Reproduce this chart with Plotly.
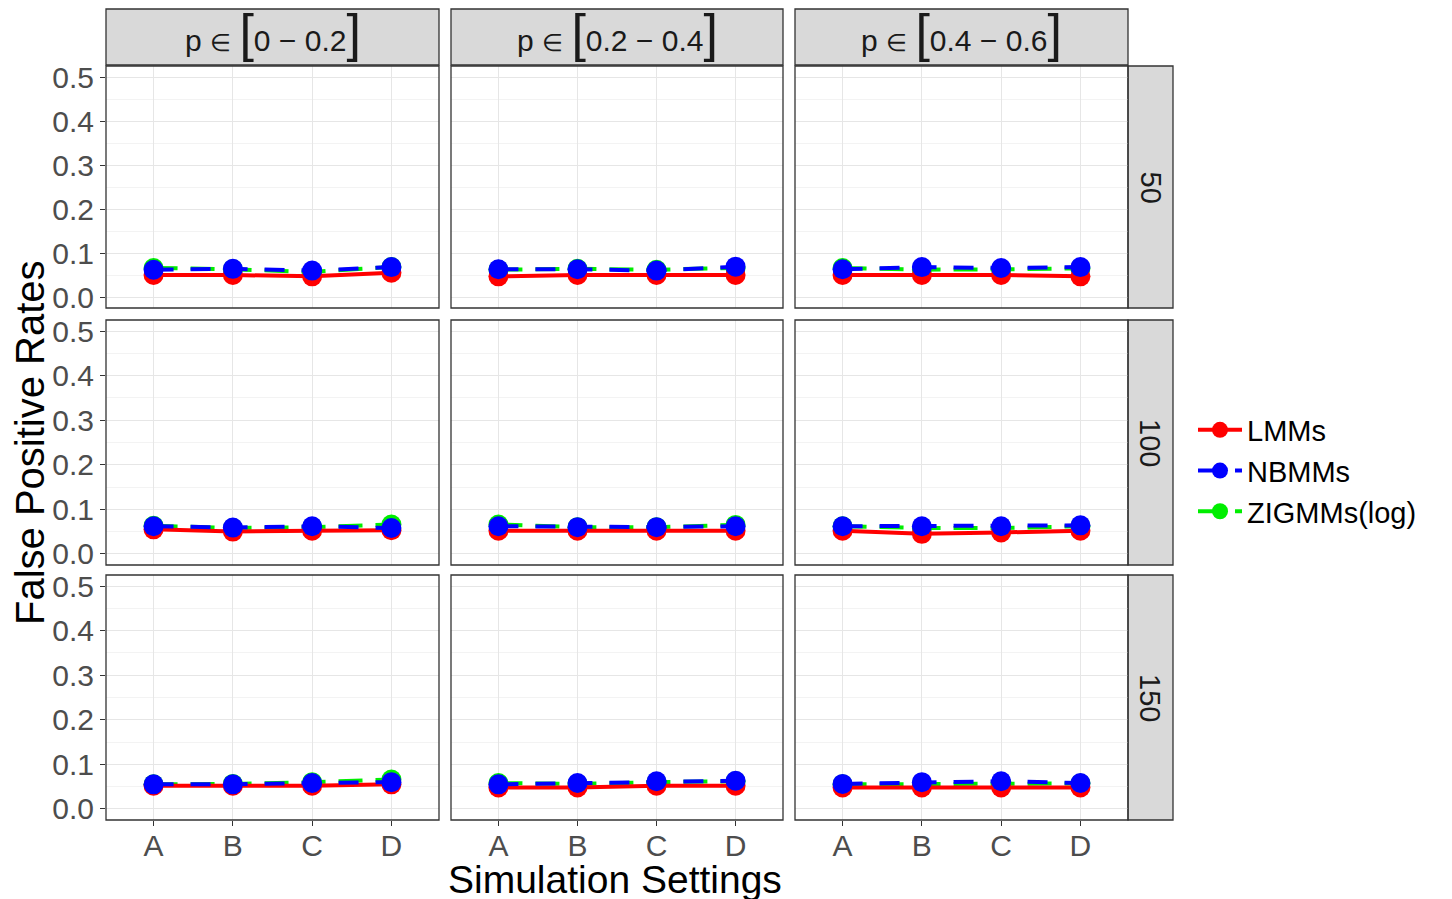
import plotly.graph_objects as go

W, H = 1452, 899
settings = ["A", "B", "C", "D"]
col_labels = ["0 \u2212 0.2", "0.2 \u2212 0.4", "0.4 \u2212 0.6"]
row_labels = ["50", "100", "150"]
methods = ["LMMs", "NBMMs", "ZIGMMs(log)"]
colors = {"LMMs": "#ff0000", "NBMMs": "#0000ff", "ZIGMMs(log)": "#00ee00"}

# false positive rates [row][col] for each method
lmm = [
    [[0.050, 0.050, 0.047, 0.055], [0.047, 0.050, 0.050, 0.050], [0.050, 0.050, 0.050, 0.047]],
    [[0.055, 0.050, 0.052, 0.053], [0.052, 0.052, 0.052, 0.052], [0.052, 0.045, 0.048, 0.052]],
    [[0.052, 0.052, 0.052, 0.055], [0.048, 0.048, 0.052, 0.052], [0.048, 0.048, 0.048, 0.048]],
]
nbmm = [
    [[0.062, 0.064, 0.060, 0.068], [0.063, 0.063, 0.060, 0.069], [0.063, 0.068, 0.066, 0.068]],
    [[0.062, 0.059, 0.062, 0.058], [0.062, 0.060, 0.060, 0.062], [0.062, 0.062, 0.062, 0.064]],
    [[0.055, 0.055, 0.058, 0.060], [0.055, 0.058, 0.062, 0.063], [0.056, 0.060, 0.062, 0.058]],
]
zigmm = [
    [[0.066, 0.063, 0.057, 0.068], [0.062, 0.064, 0.062, 0.066], [0.066, 0.062, 0.063, 0.065]],
    [[0.063, 0.058, 0.060, 0.066], [0.066, 0.060, 0.060, 0.065], [0.062, 0.058, 0.058, 0.062]],
    [[0.055, 0.056, 0.060, 0.066], [0.058, 0.056, 0.060, 0.062], [0.055, 0.056, 0.058, 0.057]],
]
data = {"LMMs": lmm, "NBMMs": nbmm, "ZIGMMs(log)": zigmm}
dashes = {"LMMs": "solid", "NBMMs": "20px,17px", "ZIGMMs(log)": "24px,13px"}
draw_order = ["ZIGMMs(log)", "LMMs", "NBMMs"]
y_ticks = [0.0, 0.1, 0.2, 0.3, 0.4, 0.5]

# pixel layout
col_px = [(106, 439), (451, 783), (795, 1128)]
row_px = [(66, 308), (320, 565), (575, 820)]
strip_top = (9, 65)
strip_right = (1128, 1173)

def fx(px):
    return px / W

def fy(py):
    return 1 - py / H

FONT = "Liberation Sans, Arial, sans-serif"
fig = go.Figure()
layout = dict(
    template="none",
    width=W, height=H, margin=dict(l=0, r=0, t=0, b=0, pad=0, autoexpand=False),
    paper_bgcolor="white", plot_bgcolor="white",
    font=dict(family=FONT, color="#333333"),
    showlegend=True,
    legend=dict(x=fx(1193), y=fy(471), xanchor="left", yanchor="middle",
                font=dict(size=29, color="black", family=FONT),
                bgcolor="rgba(0,0,0,0)", borderwidth=0, itemwidth=44, tracegroupgap=0),
)
shapes = []
annotations = []

for r in range(3):
    for c in range(3):
        idx = r * 3 + c + 1
        xa = "xaxis" if idx == 1 else f"xaxis{idx}"
        ya = "yaxis" if idx == 1 else f"yaxis{idx}"
        xr = "x" if idx == 1 else f"x{idx}"
        yr = "y" if idx == 1 else f"y{idx}"
        layout[xa] = dict(
            domain=[fx(col_px[c][0]), fx(col_px[c][1])], anchor=yr, automargin=False,
            type="category", categoryorder="array", categoryarray=settings,
            range=[-0.6, 3.6], showgrid=True, gridcolor="#e6e6e6", gridwidth=1,
            zeroline=False, showline=False,
            showticklabels=(r == 2), ticks="outside" if r == 2 else "",
            ticklen=5, tickcolor="#333333", ticklabelstandoff=-6,
            tickfont=dict(size=30, color="#4d4d4d", family=FONT),
        )
        layout[ya] = dict(
            domain=[fy(row_px[r][1]), fy(row_px[r][0])], anchor=xr, automargin=False,
            range=[-0.025, 0.525], tickvals=y_ticks,
            ticktext=[f"{v:.1f}" for v in y_ticks],
            showgrid=True, gridcolor="#e6e6e6", gridwidth=1,
            minor=dict(dtick=0.05, tick0=0, showgrid=True, gridcolor="#f3f3f3", gridwidth=1),
            zeroline=False, showline=False,
            showticklabels=(c == 0), ticks="outside" if c == 0 else "",
            ticklen=5, tickcolor="#333333",
            tickfont=dict(size=30, color="#4d4d4d", family=FONT),
        )
        for m in draw_order:
            fig.add_trace(go.Scatter(
                x=settings, y=data[m][r][c], mode="lines+markers", name=m,
                legendgroup=m, showlegend=(idx == 1),
                legendrank={"LMMs": 1, "NBMMs": 2, "ZIGMMs(log)": 3}[m],
                line=dict(color=colors[m], width=4, dash=dashes[m]),
                marker=dict(color=colors[m], size=20),
                xaxis=xr, yaxis=yr,
            ))
        # panel border
        shapes.append(dict(type="rect", xref="paper", yref="paper",
                           x0=fx(col_px[c][0]), x1=fx(col_px[c][1]),
                           y0=fy(row_px[r][1]), y1=fy(row_px[r][0]),
                           line=dict(color="#333333", width=1.3), fillcolor="rgba(0,0,0,0)", layer="above"))

# top strips
big = "<span style='font-size:52px'>"
for c in range(3):
    shapes.append(dict(type="rect", xref="paper", yref="paper",
                       x0=fx(col_px[c][0]), x1=fx(col_px[c][1]),
                       y0=fy(strip_top[1]), y1=fy(strip_top[0]),
                       line=dict(color="#333333", width=1.3), fillcolor="#d9d9d9", layer="below"))
    annotations.append(dict(
        xref="paper", yref="paper", x=(fx(col_px[c][0]) + fx(col_px[c][1])) / 2,
        y=(fy(strip_top[0]) + fy(strip_top[1])) / 2 + 0.004, xanchor="center", yanchor="middle",
        text=f"p <span style='font-size:24px'>\u2208</span> {big}[</span>{col_labels[c]}{big}]</span>",
        showarrow=False, font=dict(size=30, color="#1a1a1a", family=FONT)))

# right strips
for r in range(3):
    shapes.append(dict(type="rect", xref="paper", yref="paper",
                       x0=fx(strip_right[0]), x1=fx(strip_right[1]),
                       y0=fy(row_px[r][1]), y1=fy(row_px[r][0]),
                       line=dict(color="#333333", width=1.3), fillcolor="#d9d9d9", layer="below"))
    annotations.append(dict(
        xref="paper", yref="paper", x=(fx(strip_right[0]) + fx(strip_right[1])) / 2,
        y=(fy(row_px[r][0]) + fy(row_px[r][1])) / 2, xanchor="center", yanchor="middle",
        text=row_labels[r], textangle=90, showarrow=False,
        font=dict(size=29, color="#1a1a1a", family=FONT)))

# axis titles
annotations.append(dict(xref="paper", yref="paper", x=fx(615), y=fy(879),
                        xanchor="center", yanchor="middle", text="Simulation Settings",
                        showarrow=False, font=dict(size=39, color="black", family=FONT)))
annotations.append(dict(xref="paper", yref="paper", x=fx(30), y=fy(443),
                        xanchor="center", yanchor="middle", text="False Positive Rates",
                        textangle=-90, showarrow=False,
                        font=dict(size=40, color="black", family=FONT)))

layout["shapes"] = shapes
layout["annotations"] = annotations
fig.update_layout(**layout)
fig.write_html("out.html", config={"displayModeBar": False},
               post_script="document.body.style.margin='0';document.body.style.overflow='hidden';")
